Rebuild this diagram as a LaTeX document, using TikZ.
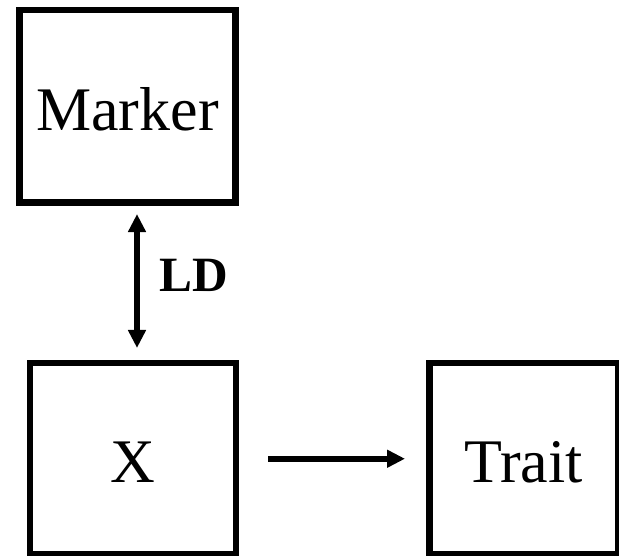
\documentclass[tikz,border=0pt]{standalone}
\usepackage{fontspec}
\setmainfont{Liberation Serif}
\usetikzlibrary{arrows.meta}
\tikzset{
  box/.style={draw=black, line width=4.9pt, rectangle, inner sep=0pt,
    font=\fontsize{46.5pt}{50pt}\selectfont, text height=36pt, text depth=0pt},
  conn/.style={line width=4.2pt, -{Triangle[length=13.5pt,width=12.75pt]}},
  biconn/.style={line width=4.2pt, {Triangle[length=13.5pt,width=12.75pt]}-{Triangle[length=13.5pt,width=12.75pt]}},
  lbl/.style={font=\fontsize{37pt}{40pt}\selectfont\bfseries, inner sep=0pt, anchor=base west}
}
\begin{document}
\begin{tikzpicture}[x=0.75pt,y=-0.75pt]
\useasboundingbox[fill=white] (0,0) rectangle (619,556);
\node[box, minimum width=216*0.75pt, minimum height=192.5*0.75pt] (m) at (127.5,106.25) {Marker};
\node[box, minimum width=206*0.75pt, minimum height=191.5*0.75pt] (x) at (133,458.75) {X};
\node[box, minimum width=188.5*0.75pt, minimum height=191.5*0.75pt] (t) at (523.75,458.75) {Trait};
\coordinate (lx) at (137,0);
\draw[biconn, shorten <=6.2pt, shorten >=8.8pt] (m.south -| lx) -- (x.north -| lx);
\draw[conn, shorten <=21.6pt, shorten >=15.9pt] (x.east) -- (t.west);
\node[lbl] (ld) at (159,292) {LD};
\end{tikzpicture}
\end{document}
